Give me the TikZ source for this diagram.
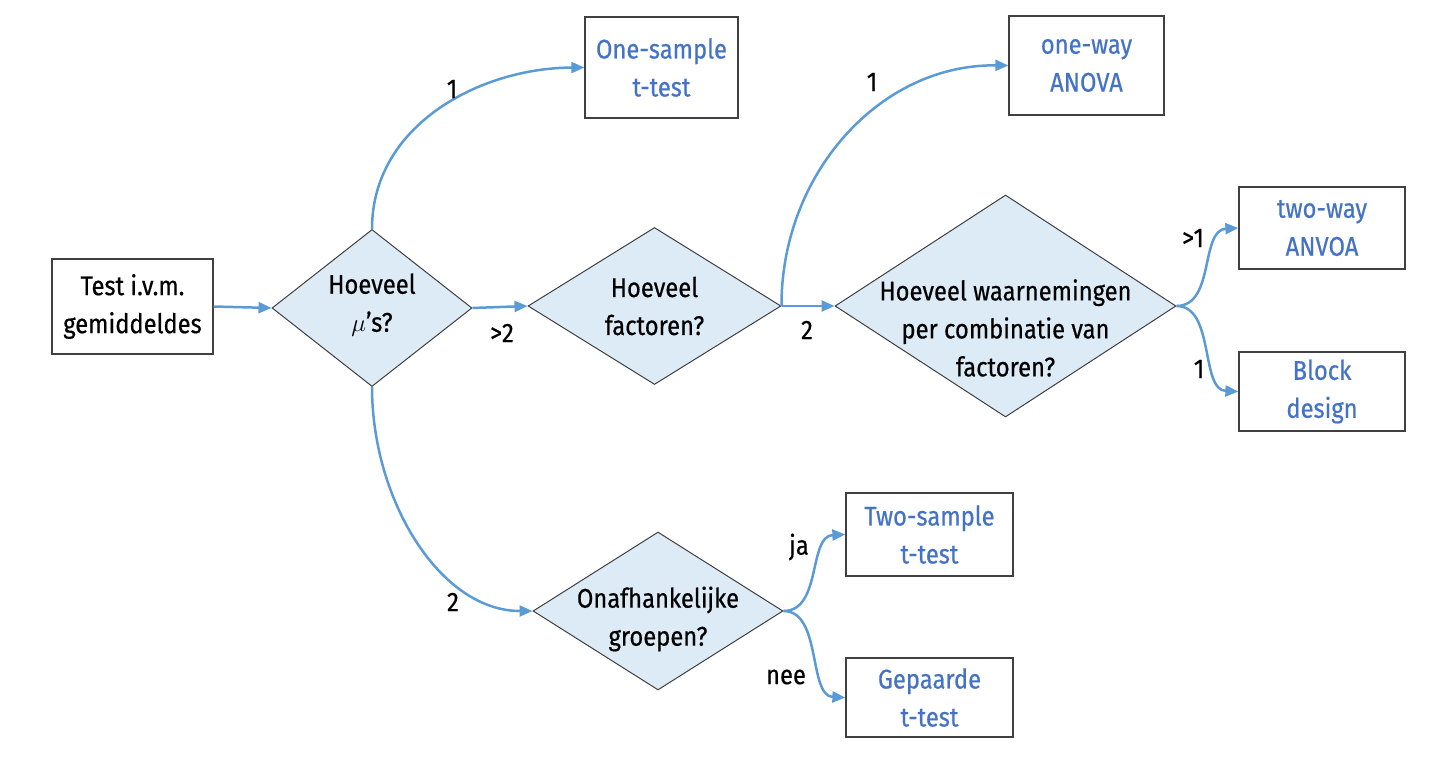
\documentclass[tikz,border=0pt]{standalone}
\usepackage{fontspec}
\setmainfont{Fira Sans}[FakeStretch=0.88, FakeBold=0.5]
\usetikzlibrary{shapes.geometric,arrows.meta}
\definecolor{arrowblue}{HTML}{5B9BD5}
\definecolor{textblue}{HTML}{4472C4}
\definecolor{diafill}{HTML}{DDEBF7}
\definecolor{edge}{HTML}{404040}
\tikzset{
  txt/.style={font=\fontsize{27}{38}\selectfont, align=center, inner sep=0pt},
  box/.style={draw=edge, line width=1.3pt, rectangle, inner sep=0pt},
  result/.style={box, txt, text=textblue, inner sep=0pt},
  dia/.style={draw=edge, line width=1pt, fill=diafill, diamond, inner sep=0pt},
  arr/.style={draw=arrowblue, line width=2.5pt, -{Triangle[length=13pt,width=11pt]}},
  lbl/.style={txt, text=black}
}
\begin{document}
\begin{tikzpicture}[x=1pt,y=-1pt]
\useasboundingbox (0,0) rectangle (1450,770);
% start box
\node[box, txt, minimum width=161pt, minimum height=95pt] (start) at (132.5,306.5) {Test i.v.m.\\gemiddeldes};
% diamonds
\node[dia, minimum width=200pt, minimum height=157pt] (d1) at (372,308) {};
\node[txt] at (372,305) {Hoeveel\\$\mu$'s?};
\node[dia, minimum width=253pt, minimum height=157pt] (d2) at (654.5,306) {};
\node[txt] at (654.5,306) {Hoeveel\\factoren?};
\node[dia, minimum width=341pt, minimum height=222pt] (d3) at (1005.5,306) {};
\node[txt] at (1005.5,328) {Hoeveel waarnemingen\\per combinatie van\\factoren?};
\node[dia, minimum width=250pt, minimum height=158pt] (d4) at (658,611) {};
\node[txt] at (658,619) {Onafhankelijke\\groepen?};
% result boxes
\node[result, minimum width=153pt, minimum height=101pt] (r1) at (661.5,67.5) {One-sample\\t-test};
\node[result, minimum width=155pt, minimum height=99pt] (r2) at (1086.5,65.5) {one-way\\ANOVA};
\node[result, minimum width=166pt, minimum height=82pt] (r3) at (1322,228) {two-way\\ANVOA};
\node[result, minimum width=166pt, minimum height=79pt] (r4) at (1322,391.5) {Block\\design};
\node[result, minimum width=167pt, minimum height=83pt] (r5) at (929.5,534.5) {Two-sample\\t-test};
\node[result, minimum width=167pt, minimum height=79pt] (r6) at (929.5,697.5) {Gepaarde\\t-test};
% connectors
\draw[arr] (start.east) -- (d1.west);
\draw[arr] (d1.east) -- (d2.west);
\draw[arr] (d2.east) -- (d3.west);
\draw[arr] (d1.north) .. controls (372,125) and (480,68) .. (r1.west);
\draw[arr] (d2.east) .. controls (781,175) and (879,64) .. (r2.west);
\draw[arr] (d1.south) .. controls (372,500) and (440,611) .. (d4.west);
\draw[arr] (d3.east) .. controls (1215,306) and (1200,230) .. (r3.west);
\draw[arr] (d3.east) .. controls (1215,306) and (1200,390) .. (r4.west);
\draw[arr] (d4.east) .. controls (822,611) and (808,536) .. (r5.west);
\draw[arr] (d4.east) .. controls (822,611) and (808,696) .. (r6.west);
% labels
\node[lbl] (l1) at (452,89) {1};
\node[lbl] (l2) at (502,333) {>2};
\node[lbl] (l3) at (807,330) {2};
\node[lbl] (l4) at (872,82) {1};
\node[lbl] (l5) at (1193,238) {>1};
\node[lbl] (l6) at (1199,369) {1};
\node[lbl] (l7) at (453,602) {2};
\node[lbl] (l8) at (799,547) {ja};
\node[lbl] (l9) at (786,677) {nee};
\end{tikzpicture}
\end{document}
